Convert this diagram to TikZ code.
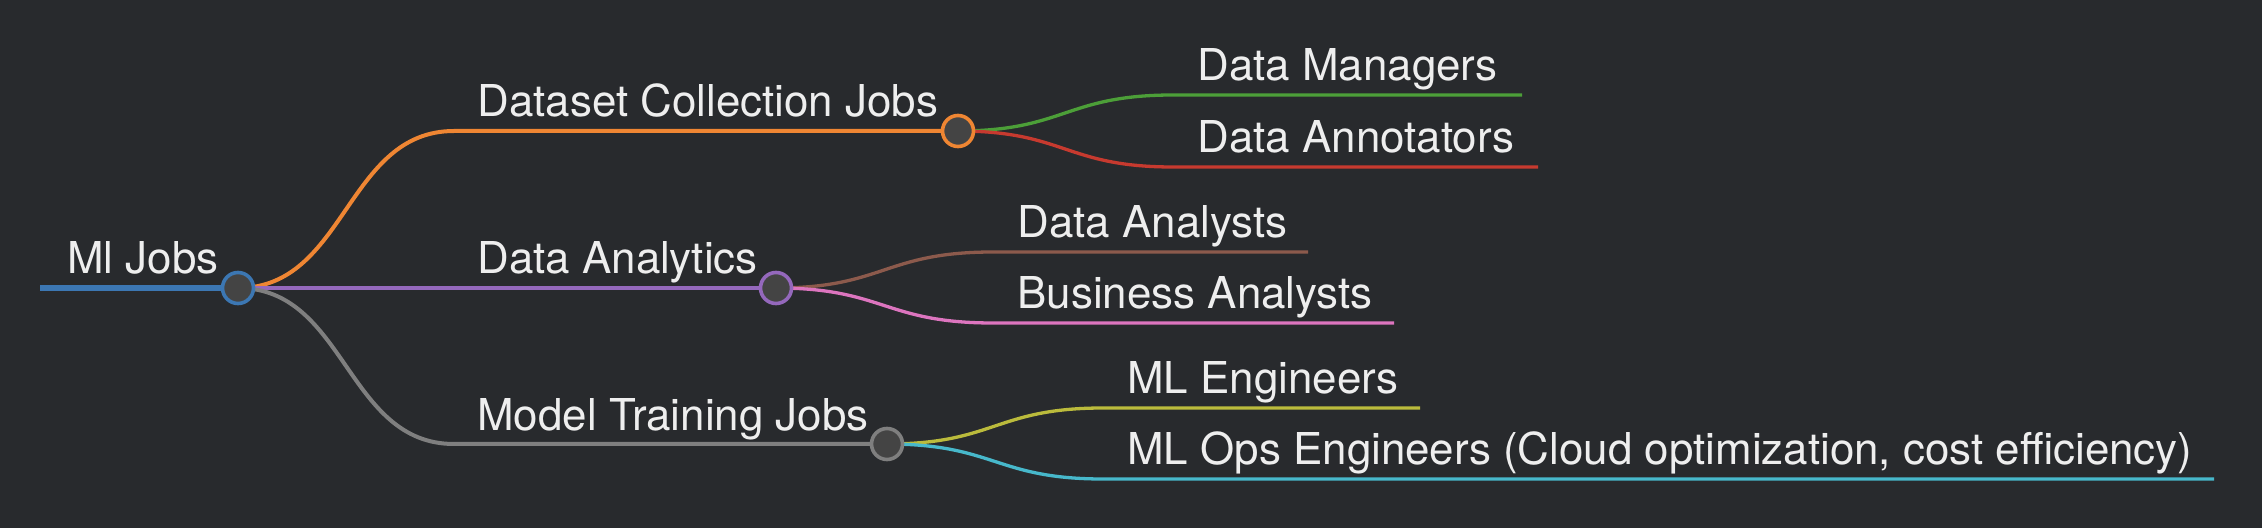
\documentclass[tikz,border=0pt]{standalone}
\usepackage{fontspec}
\setmainfont{TeX Gyre Heros}
\definecolor{bg}{HTML}{282A2D}
\definecolor{cblue}{HTML}{3C77B3}
\definecolor{corange}{HTML}{EF8633}
\definecolor{cgreen}{HTML}{4C9F38}
\definecolor{cred}{HTML}{C73A2F}
\definecolor{cpurple}{HTML}{9468BC}
\definecolor{cbrown}{HTML}{8C5A4C}
\definecolor{cpink}{HTML}{DD75BF}
\definecolor{cgrey}{HTML}{7F7F7F}
\definecolor{colive}{HTML}{BBBB3C}
\definecolor{ccyan}{HTML}{47B8CB}
\definecolor{dotfill}{HTML}{444444}
\definecolor{txt}{HTML}{EEEEEE}
\tikzset{
  lzero/.style={line width=3pt},
  lone/.style={line width=2pt},
  ltwo/.style={line width=1.65pt},
  dot/.style={circle, minimum size=15.5pt, inner sep=0pt, fill=dotfill, line width=1.8pt},
  lbl/.style={anchor=base west, inner sep=0pt, text=txt, font=\fontsize{21.95}{26}\selectfont},
}
\begin{document}
\begin{tikzpicture}[x=0.5pt,y=-0.5pt]
\fill[bg] (0,0) rectangle (2262,528);
\useasboundingbox (0,0) rectangle (2262,528);
% circle centres
\coordinate (c0) at (238,288);
\coordinate (c1) at (958,131);
\coordinate (c2) at (776,288);
\coordinate (c3) at (887,444);
% end points of leaf lines
\coordinate (rs) at (40,288);
\coordinate (e11) at (1522,95);
\coordinate (e12) at (1538,167);
\coordinate (e21) at (1308,252);
\coordinate (e22) at (1394,323);
\coordinate (e31) at (1420,408);
\coordinate (e32) at (2214,479);
% texts
\node[lbl] (t0) at (67,274) {Ml Jobs};
\node[lbl] (t1) at (477,117) {Dataset Collection Jobs};
\node[lbl] (t2) at (477,274) {Data Analytics};
\node[lbl] (t3) at (477,430) {Model Training Jobs};
\node[lbl] (t11) at (1197,81) {Data Managers};
\node[lbl] (t12) at (1197,153) {Data Annotators};
\node[lbl] (t21) at (1017,238) {Data Analysts};
\node[lbl] (t22) at (1017,309) {Business Analysts};
\node[lbl] (t31) at (1127,394) {ML Engineers};
\node[lbl] (t32) at (1127,465) {ML Ops Engineers (Cloud optimization, cost efficiency)};
% links
\draw[cblue, lzero] (rs) -- (c0);
\draw[corange, lone] (c0) .. controls (346,288) and (346,131) .. (454,131) -- (c1);
\draw[cpurple, lone] (c0) -- (c2);
\draw[cgrey, lone] (c0) .. controls (346,288) and (346,444) .. (454,444) -- (c3);
\draw[cgreen, ltwo] (c1) .. controls (1065,131) and (1065,95) .. (1173,95) -- (e11);
\draw[cred, ltwo] (c1) .. controls (1065,131) and (1065,167) .. (1173,167) -- (e12);
\draw[cbrown, ltwo] (c2) .. controls (884,288) and (884,252) .. (993,252) -- (e21);
\draw[cpink, ltwo] (c2) .. controls (884,288) and (884,323) .. (993,323) -- (e22);
\draw[colive, ltwo] (c3) .. controls (995,444) and (995,408) .. (1103,408) -- (e31);
\draw[ccyan, ltwo] (c3) .. controls (995,444) and (995,479) .. (1103,479) -- (e32);
% circles
\node[dot, draw=cblue] (n0) at (c0) {};
\node[dot, draw=corange] (n1) at (c1) {};
\node[dot, draw=cpurple] (n2) at (c2) {};
\node[dot, draw=cgrey] (n3) at (c3) {};
\end{tikzpicture}
\end{document}
